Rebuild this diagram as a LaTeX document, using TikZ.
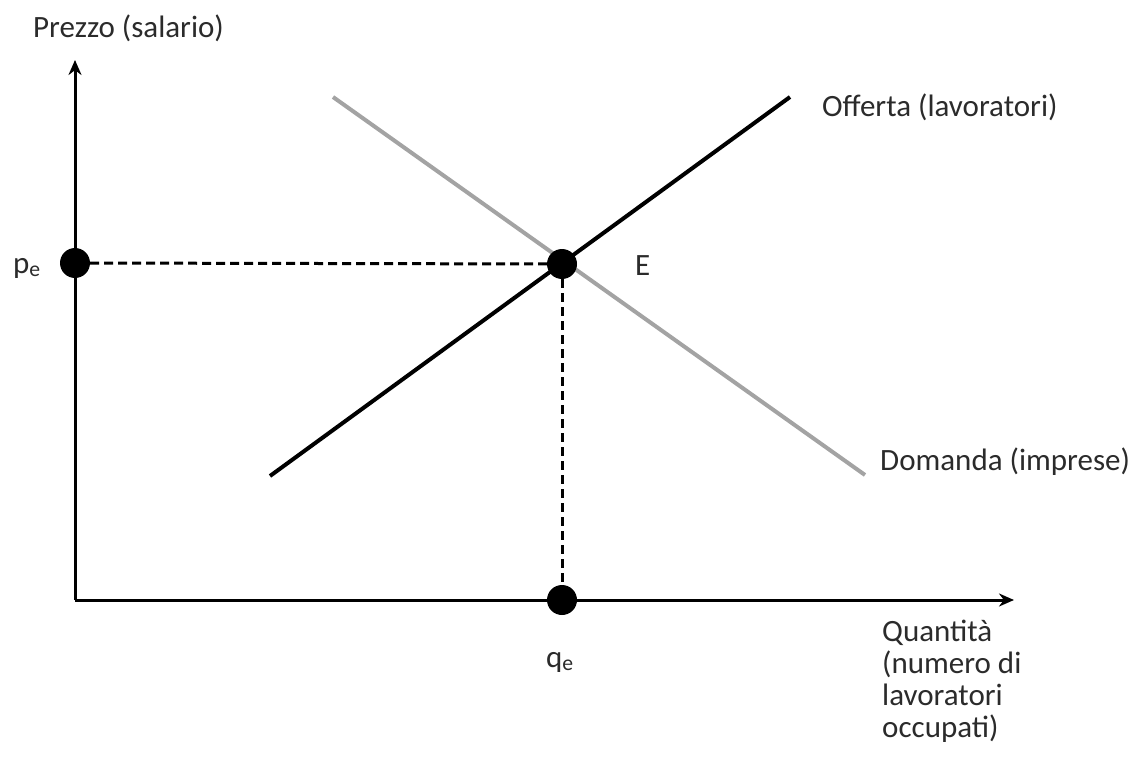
\documentclass[tikz,border=0pt]{standalone}
\usepackage{fontspec}
\setmainfont{Carlito}
\usetikzlibrary{arrows.meta}
\definecolor{txt}{HTML}{2B2B2B}
\definecolor{demand}{HTML}{A3A3A3}
\tikzset{
  axis/.style={line width=3pt, -{Stealth[length=15pt,width=13pt]}},
  supply/.style={line width=4pt, black},
  demandline/.style={line width=4pt, demand},
  guide/.style={line width=3pt, dash pattern=on 9pt off 5pt},
  dot/.style={circle, fill=black, inner sep=0pt, minimum size=30pt},
  lbl/.style={font=\fontsize{31}{32}\selectfont, text=txt, inner sep=0pt},
}
\begin{document}
\begin{tikzpicture}[x=1pt,y=-1pt]
\useasboundingbox (0,0) rectangle (1136,757);
% axes
\coordinate (O) at (75,600);
\coordinate (ytip) at (75,60);
\coordinate (xtip) at (1014,600);
\draw[axis] (O) -- (ytip);
\draw[axis] (O) -- (xtip);
% curves
\coordinate (s1) at (270,476);
\coordinate (s2) at (790,97);
\coordinate (d1) at (333,97);
\coordinate (d2) at (865,475);
\draw[demandline] (d1) -- (d2);
\draw[supply] (s1) -- (s2);
% points
\node[dot] (E) at (562,264) {};
\node[dot] (pe) at (75,263) {};
\node[dot] (qe) at (562,600) {};
\draw[guide] (pe) -- (E);
\draw[guide] (E) -- (qe);
% labels
\node[lbl, anchor=base west] (ylab) at (33,38) {Prezzo (salario)};
\node[lbl, anchor=base west] (pelab) at (13,273) {p\textsubscript{e}};
\node[lbl, anchor=base west] (Elab) at (635,275) {E};
\node[lbl, anchor=base west] (olab) at (822,117) {Offerta (lavoratori)};
\node[lbl, anchor=base west] (dlab) at (880,470) {Domanda (imprese)};
\node[lbl, anchor=base] (qelab) at (560,667) {q\textsubscript{e}};
\node[lbl, anchor=north west, align=left] (xlab) at (882,620) {Quantità\\(numero di\\lavoratori\\occupati)};
\end{tikzpicture}
\end{document}
